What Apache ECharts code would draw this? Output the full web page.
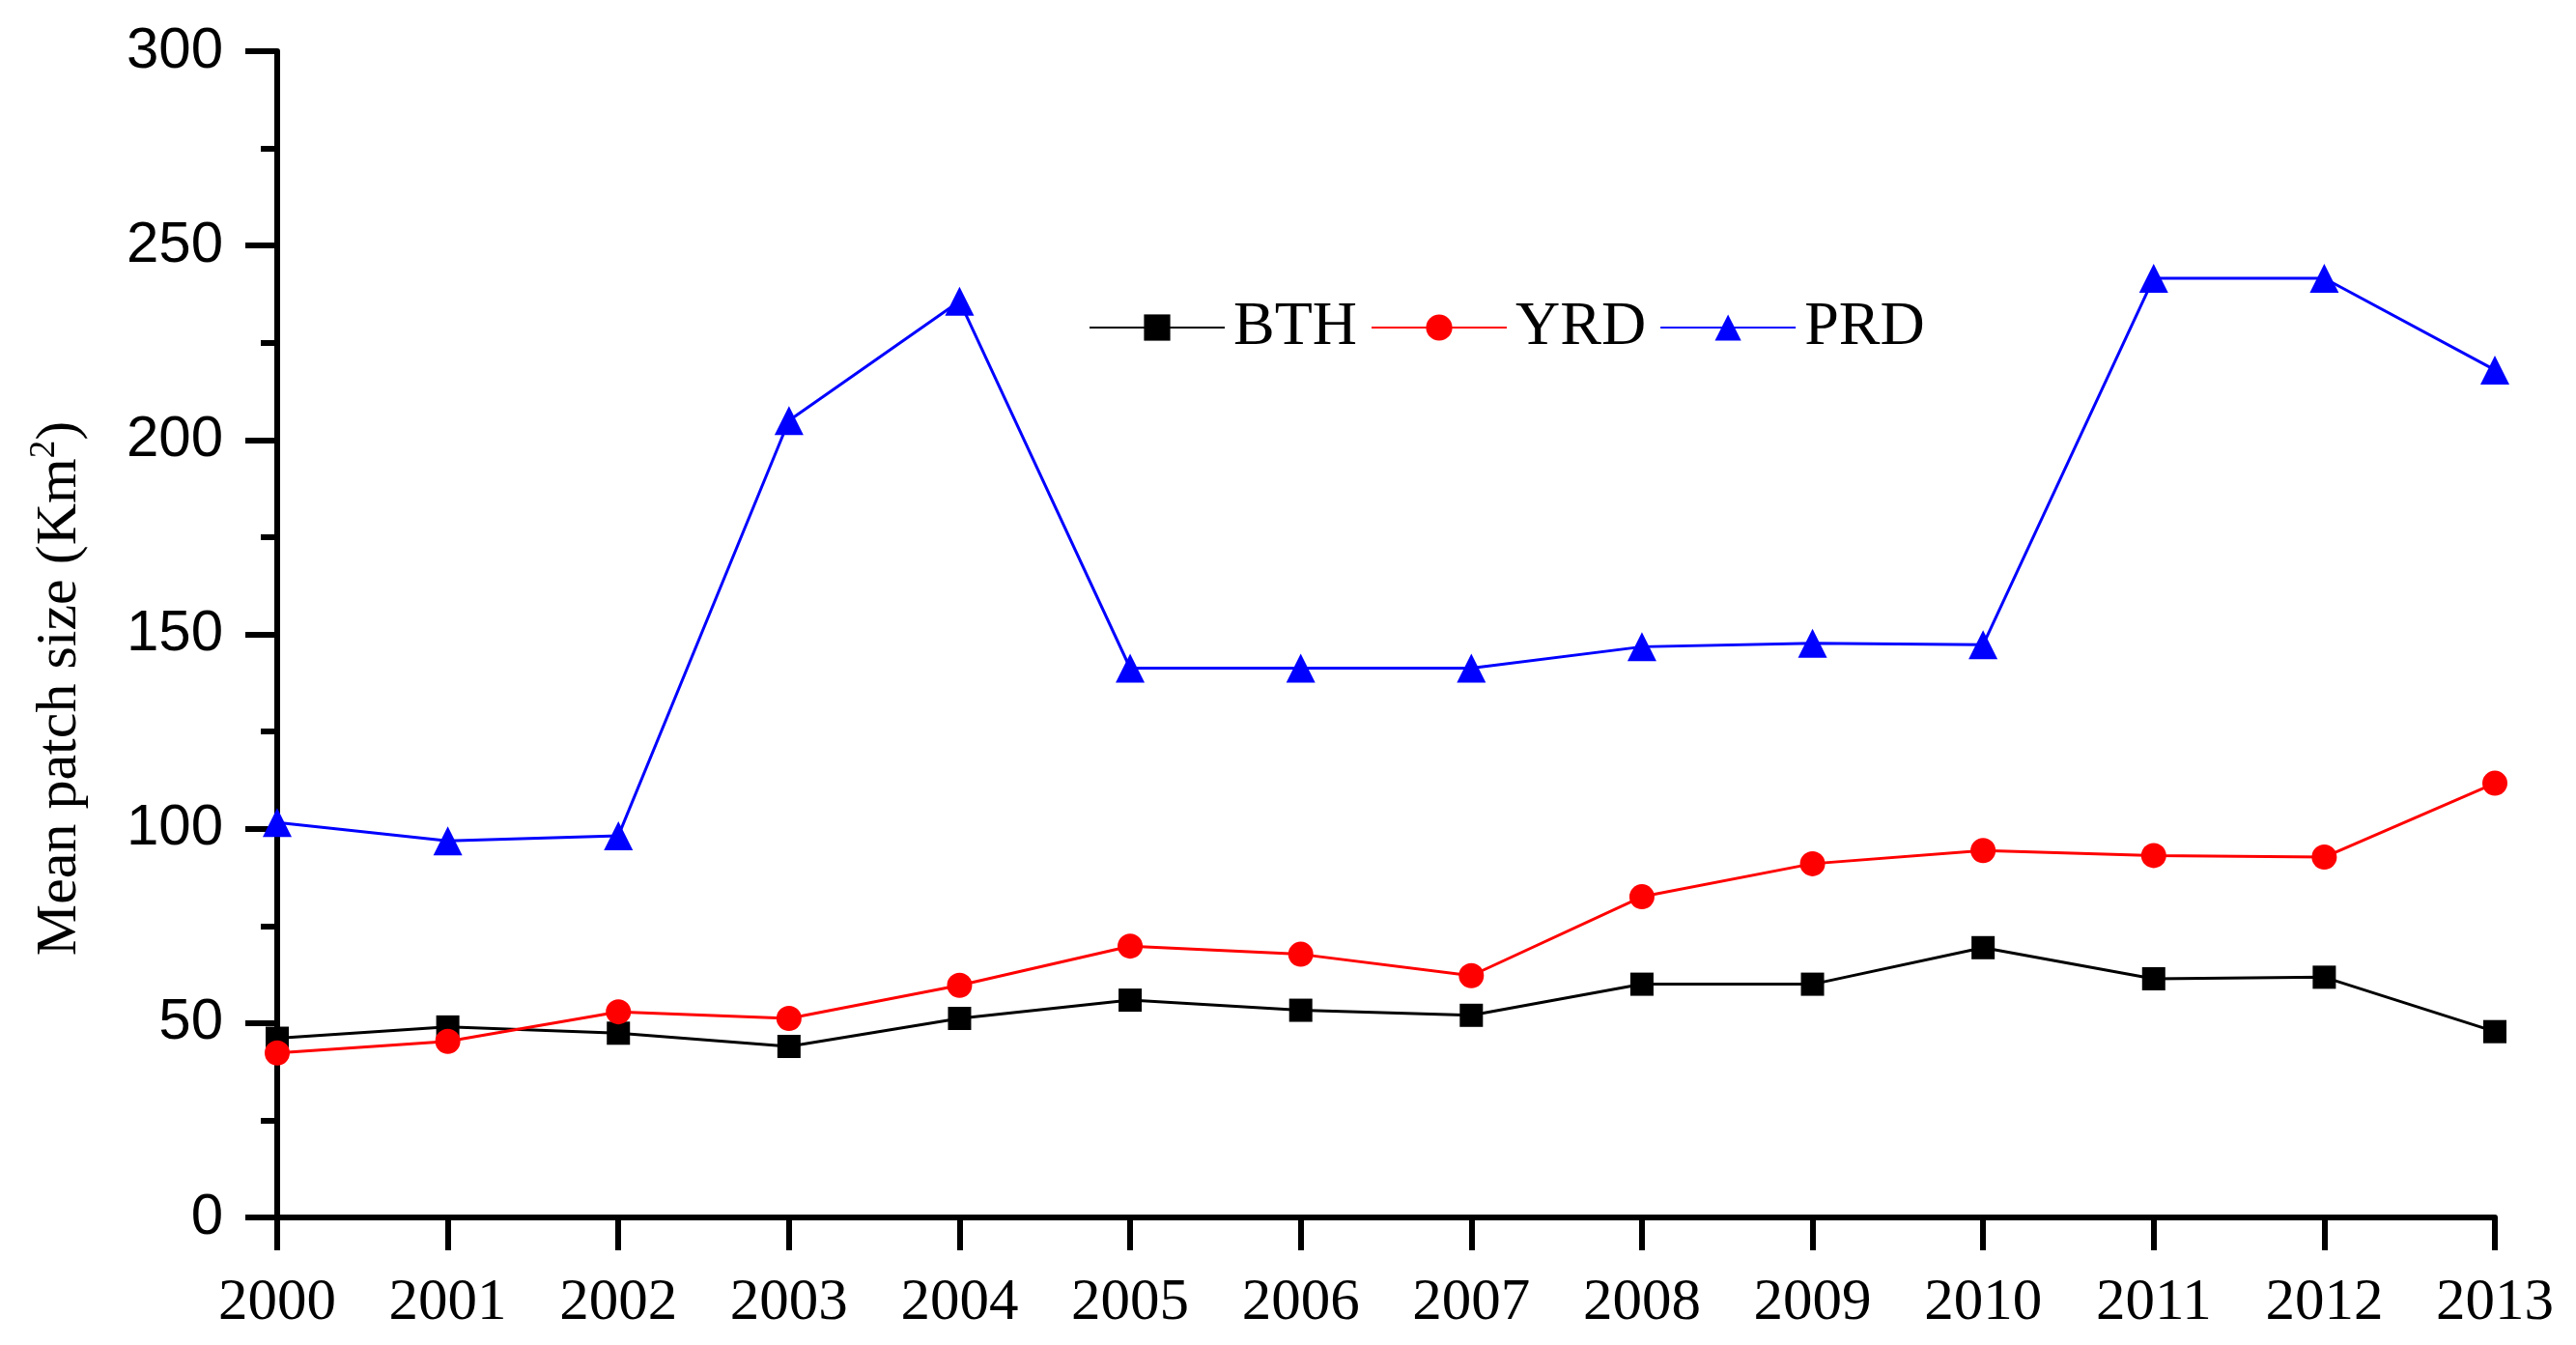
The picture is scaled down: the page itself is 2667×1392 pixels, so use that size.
<!DOCTYPE html>
<html>
<head>
<meta charset="utf-8">
<script src="https://cdn.jsdelivr.net/npm/echarts@6/dist/echarts.min.js"></script>
<style>html,body{margin:0;padding:0;background:#fff}#chart{width:2667px;height:1392px}</style>
</head>
<body>
<div id="chart"></div>
<script>
const years = ['2000','2001','2002','2003','2004','2005','2006','2007','2008','2009','2010','2011','2012','2013'];
const BTH = [46.1, 49.0, 47.4, 44.0, 51.2, 55.9, 53.3, 52.0, 60.0, 60.0, 69.4, 61.4, 61.8, 47.8];
const YRD = [42.3, 45.3, 52.9, 51.2, 59.7, 69.8, 67.7, 62.2, 82.5, 91.0, 94.4, 93.1, 92.7, 111.7];
const PRD = [101.6, 96.9, 98.2, 205.0, 235.7, 141.3, 141.3, 141.3, 146.8, 147.7, 147.3, 241.6, 241.6, 218.0];
const yTicks = [0, 50, 100, 150, 200, 250, 300];

const serif = '"Liberation Serif", "Times New Roman", serif';
const sans = '"Liberation Sans", Arial, sans-serif';

const chart = echarts.init(document.getElementById('chart'));
function mk(name, data, color, symbol, size) {
  return {
    name, type: 'line', data, symbol, symbolSize: size,
    showAllSymbol: true, clip: true,
    lineStyle: { color, width: 3 },
    itemStyle: { color },
    emphasis: { disabled: true }
  };
}
chart.setOption({
  animation: false,
  backgroundColor: '#fff',
  grid: { left: 287, right: 84, top: 53, bottom: 132, containLabel: false },
  legend: {
    left: 1122, top: 302,
    itemWidth: 140, itemHeight: 34, itemGap: 14,
    textStyle: { fontFamily: serif, fontSize: 64, color: '#000', padding: [0, 0, 0, 4] },
    data: ['BTH', 'YRD', 'PRD']
  },
  xAxis: {
    type: 'category', data: years, boundaryGap: false,
    axisLine: { lineStyle: { color: '#000', width: 6 } },
    axisTick: { show: true, length: 34, inside: false, lineStyle: { color: '#000', width: 6 }, alignWithLabel: true },
    axisLabel: { fontFamily: serif, fontSize: 61, color: '#000', margin: 58, interval: 0 },
    splitLine: { show: false }
  },
  yAxis: {
    type: 'value', min: yTicks[0], max: yTicks[yTicks.length - 1], interval: 50,
    name: 'Mean patch size (Km{sup|2})',
    nameLocation: 'middle', nameGap: 190, nameRotate: 90,
    nameTextStyle: {
      fontFamily: serif, fontSize: 60, color: '#000', padding: [0, 112, 0, 0],
      rich: { sup: { fontFamily: serif, fontSize: 37, color: '#000', verticalAlign: 'top', padding: [0, 0, 32, 0] } }
    },
    axisLine: { show: true, lineStyle: { color: '#000', width: 6 } },
    axisTick: { show: true, length: 33, inside: false, lineStyle: { color: '#000', width: 6 } },
    minorTick: { show: true, splitNumber: 2, length: 17, lineStyle: { color: '#000', width: 6 } },
    axisLabel: { fontFamily: sans, fontSize: 60, color: '#000', margin: 56 },
    splitLine: { show: false }
  },
  series: [
    mk('BTH', BTH, '#000000', 'rect', 24),
    mk('YRD', YRD, '#ff0000', 'circle', 26),
    mk('PRD', PRD, '#0000ff', 'triangle', 30)
  ]
});
</script>
</body>
</html>
